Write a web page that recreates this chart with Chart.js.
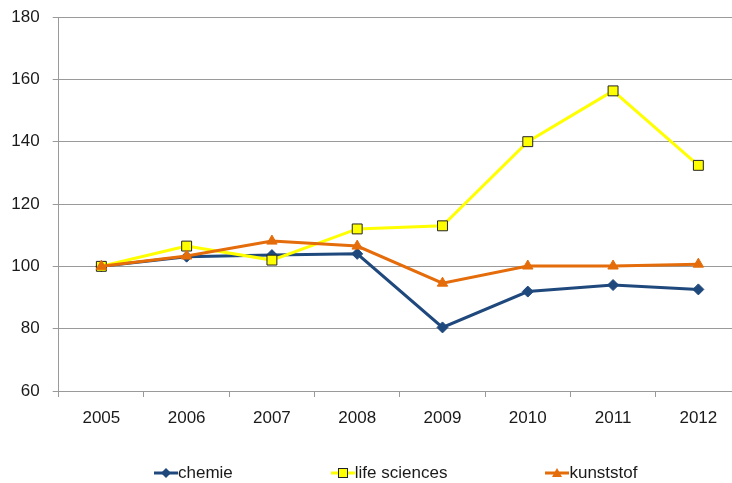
<!DOCTYPE html>
<html>
<head>
<meta charset="utf-8">
<script src="https://cdn.jsdelivr.net/npm/chart.js@4.4.0/dist/chart.umd.min.js"></script>
<style>
  body { margin: 0; background: #fff; overflow: hidden; }
  #wrap { position: relative; width: 741px; height: 483px; }
  #legend {
    position: absolute; left: 154px; top: 461px;
    display: flex; white-space: nowrap;
    font: 17px 'Liberation Sans', Arial, sans-serif;
    color: #1a1a1a;
  }
  .item { display: flex; align-items: center; margin-right: 98px; line-height: 24px; }
</style>
</head>
<body>
<div id="wrap">
  <canvas id="myChart" width="741" height="483"></canvas>
  <div id="legend"></div>
</div>
<script>
  // data
  const years = ['2005', '2006', '2007', '2008', '2009', '2010', '2011', '2012'];
  const chemie = [100, 103.1, 103.6, 104, 80.4, 91.9, 94, 92.6];
  const lifeSciences = [100, 106.5, 102, 112, 113, 140, 156.3, 132.4];
  const kunststof = [100, 103.3, 108.1, 106.5, 94.6, 100.1, 100.1, 100.7];
  const seriesNames = ['chemie', 'life sciences', 'kunststof'];

  const yMin = 60, yMax = 180, yStep = 20;

  const fontFamily = "'Liberation Sans', Arial, sans-serif";
  const gridColor = '#9a9a9a';

  const blue = '#1f497d';
  const yellow = '#ffff00';
  const orange = '#e46c0a';

  const data = {
    labels: years,
    datasets: [
      {
        label: seriesNames[0],
        data: chemie,
        borderColor: blue,
        backgroundColor: blue,
        borderWidth: 3,
        pointStyle: 'rectRot',
        pointRadius: 5.5,
        pointBorderWidth: 1,
        order: 2
      },
      {
        label: seriesNames[1],
        data: lifeSciences,
        borderColor: yellow,
        backgroundColor: yellow,
        borderWidth: 3,
        pointStyle: 'rect',
        pointRadius: 7,
        pointBorderColor: '#222',
        pointBorderWidth: 1,
        order: 1
      },
      {
        label: seriesNames[2],
        data: kunststof,
        borderColor: orange,
        backgroundColor: orange,
        borderWidth: 3,
        pointStyle: 'triangle',
        pointRadius: 6,
        pointBorderWidth: 1,
        order: 0
      }
    ]
  };

  const config = {
    type: 'line',
    data: data,
    options: {
      responsive: false,
      animation: false,
      devicePixelRatio: 1,
      layout: { autoPadding: false, padding: { top: 17, left: 0, right: 0, bottom: 52 } },
      elements: { line: { tension: 0 } },
      plugins: {
        legend: { display: false },
        tooltip: { enabled: false }
      },
      scales: {
        x: {
          offset: true,
          grid: {
            offset: true,
            drawOnChartArea: false,
            tickLength: 6,
            color: gridColor
          },
          border: { color: gridColor },
          ticks: {
            font: { family: fontFamily, size: 17 },
            color: '#1a1a1a',
            padding: 11,
            maxRotation: 0
          },
          afterFit: function(scale) { scale.height = 40; }
        },
        y: {
          min: yMin,
          max: yMax,
          grid: { tickLength: 6, color: gridColor },
          border: { color: gridColor },
          ticks: {
            stepSize: yStep,
            font: { family: fontFamily, size: 17 },
            color: '#1a1a1a',
            padding: 13
          },
          afterFit: function(scale) {
            scale.width = 58.7;
            // top label may stick out, the layout padding already leaves room
            scale.paddingTop = 0;
            scale.paddingBottom = 0;
          }
        }
      }
    }
  };

  const myChart = new Chart(document.getElementById('myChart'), config);

  // html legend: a line with the marker on it, then the name
  function markerSvg(ds) {
    let shape = '';
    if (ds.pointStyle === 'rectRot') {
      shape = '<polygon points="12,2 17,7 12,12 7,7" fill="' + ds.borderColor + '"/>';
    } else if (ds.pointStyle === 'rect') {
      shape = '<rect x="7.5" y="2.5" width="9" height="9" fill="' + ds.backgroundColor + '" stroke="#222" stroke-width="1"/>';
    } else {
      shape = '<polygon points="12,2 17,11 7,11" fill="' + ds.borderColor + '"/>';
    }
    return '<svg width="24" height="14"><line x1="0" y1="7" x2="24" y2="7" stroke="' + ds.borderColor + '" stroke-width="3"/>' + shape + '</svg>';
  }

  const legendEl = document.getElementById('legend');
  data.datasets.forEach(function(ds) {
    const item = document.createElement('div');
    item.className = 'item';
    item.innerHTML = markerSvg(ds) + '<span>' + ds.label + '</span>';
    legendEl.appendChild(item);
  });
</script>
</body>
</html>
